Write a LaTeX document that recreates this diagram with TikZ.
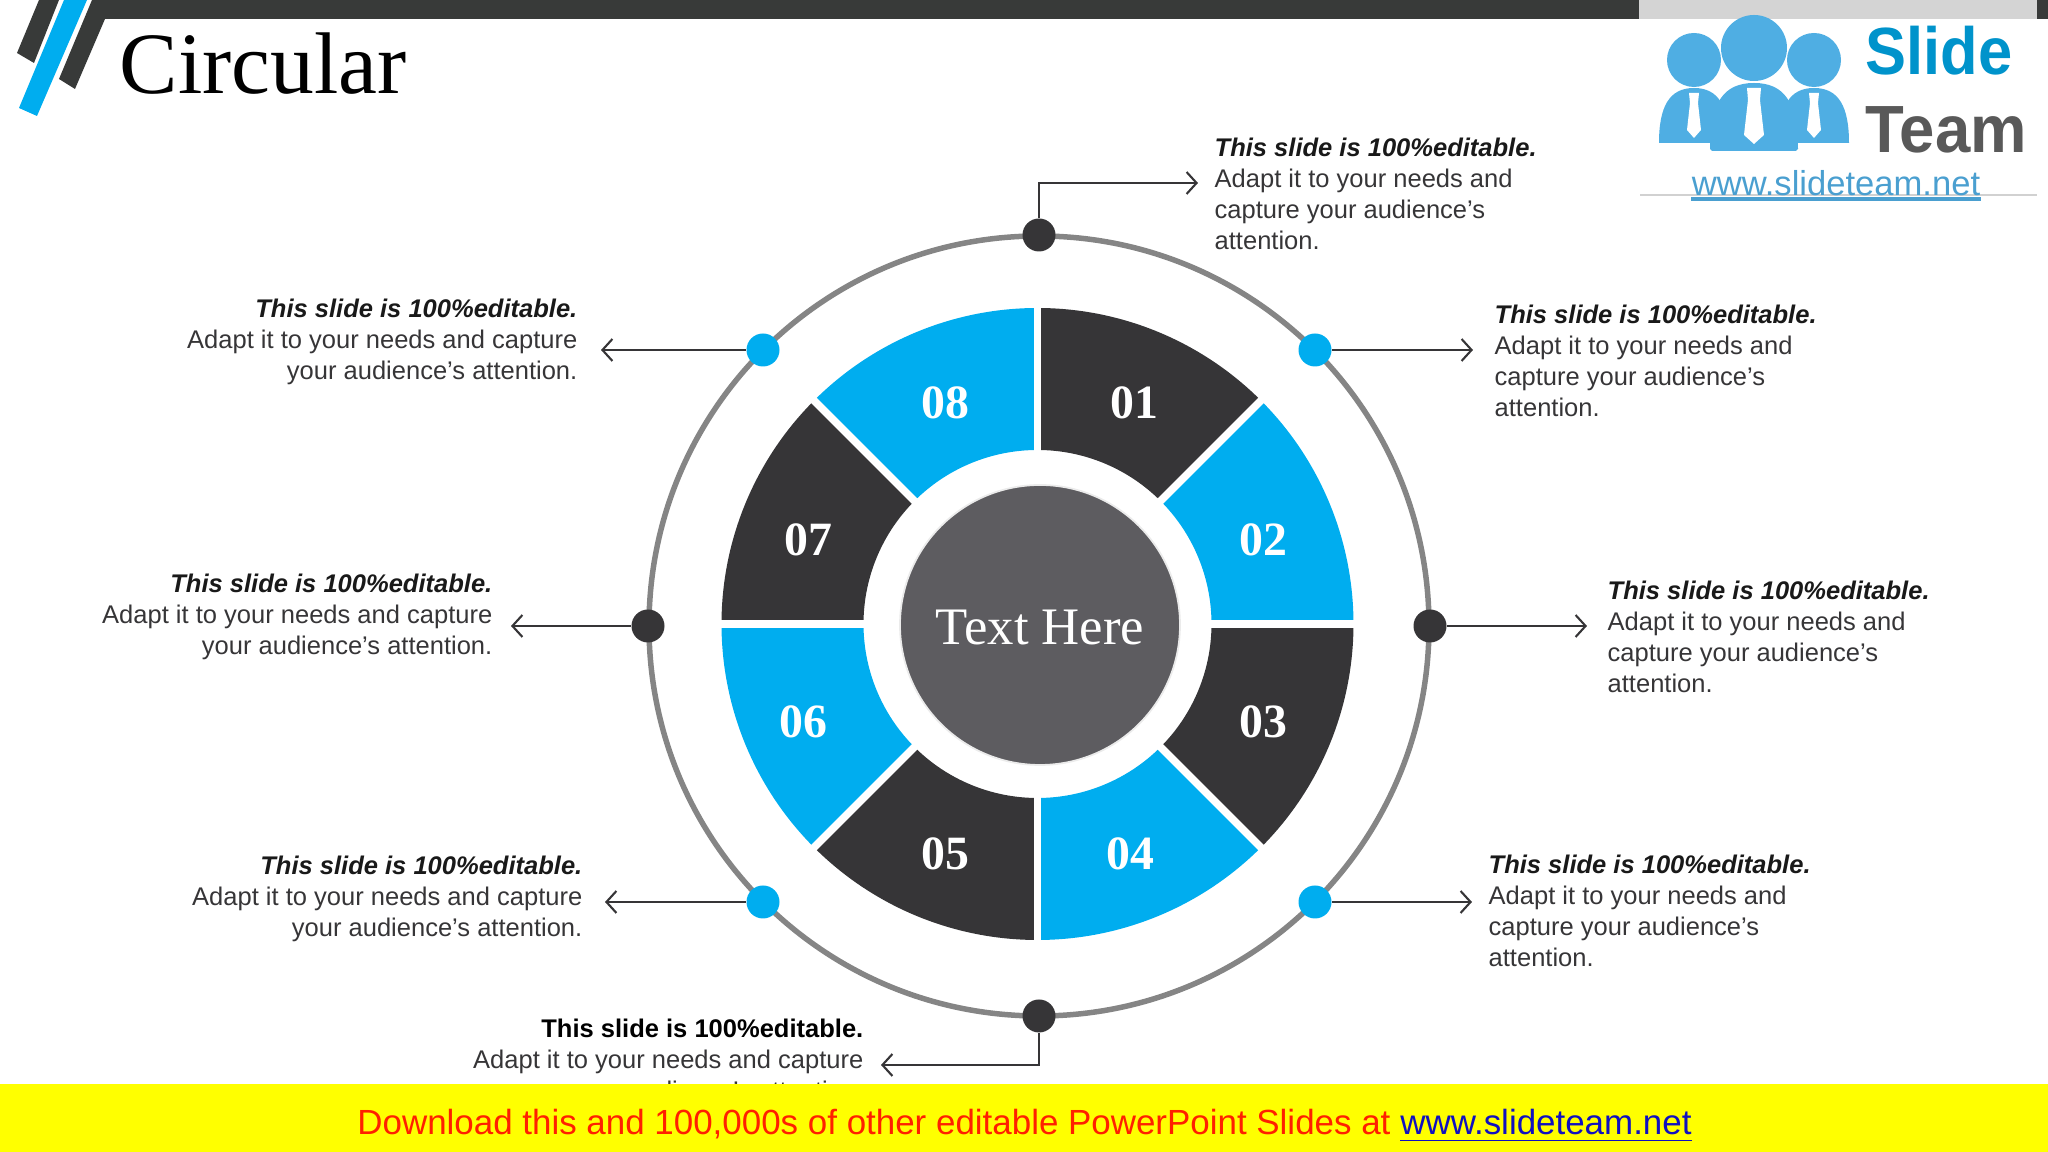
\documentclass[tikz,border=0pt]{standalone}
\usepackage{fontspec}
\setmainfont{Liberation Sans}
\newfontfamily\titlefont{Liberation Serif}
\usetikzlibrary{arrows.meta}

\definecolor{barDark}{HTML}{383A39}
\definecolor{segDark}{HTML}{363537}
\definecolor{segBlue}{HTML}{00ADEF}
\definecolor{hubGrey}{HTML}{5D5C60}
\definecolor{ringGrey}{HTML}{858585}
\definecolor{logoBlue}{HTML}{4FAEE3}
\definecolor{linkBlue}{HTML}{4A9FD0}
\definecolor{footYellow}{HTML}{FFFF00}
\definecolor{footRed}{HTML}{FF2000}
\definecolor{footLink}{HTML}{1010C0}

\tikzset{
    dotnode/.style={circle, minimum size=0.33cm, inner sep=0pt},
    leader/.style={draw=segDark, line width=0.6pt, -{Straight Barb[length=0.1cm, width=0.22cm]}},
    notetext/.style={inner sep=0pt, text=segDark, font=\fontsize{7.26}{8.85}\selectfont},
    noteleft/.style={notetext, anchor=north west, align=left},
    noteright/.style={notetext, anchor=north east, align=right},
    numnode/.style={text=white, font=\titlefont\bfseries\fontsize{13.6}{14}\selectfont},
}
\newcommand{\notehead}{\textcolor{black!90}{\textbf{\textit{This slide is 100\%editable.}}}}

\begin{document}
\begin{tikzpicture}
    \useasboundingbox (0,0) rectangle (20.48,11.52);
    % header
    \fill[barDark] (0.92,11.52) -- (16.39,11.52) -- (16.39,11.33) -- (1.05,11.33) -- (0.75,10.63) -- (0.59,10.73) -- cycle;
    \fill[barDark] (20.37,11.52) rectangle (20.48,11.33);
    \fill[barDark] (0.39,11.52) -- (0.59,11.52) -- (0.34,10.89) -- (0.17,10.99) -- cycle;
    \fill[segBlue] (0.64,11.52) -- (0.87,11.52) -- (0.37,10.36) -- (0.19,10.44) -- cycle;
    \fill[black!17] (16.39,11.52) rectangle (20.37,11.33);
    \node[inner sep=0pt, anchor=base west, font=\titlefont\fontsize{24.9}{26}\selectfont] (Title) at (1.19,10.58) {Circular};

    % logo
    \draw[black!18, line width=0.4pt] (16.40,9.57) -- (20.37,9.57);
    \fill[logoBlue] (16.94,10.92) circle (0.27);
    \fill[logoBlue] (18.14,10.92) circle (0.27);
    \fill[logoBlue] (17.54,11.04) circle (0.33);
    \foreach \bx in {16.94,18.14} {
        \fill[logoBlue, shift={(\bx,0)}] (-0.35,10.09) .. controls (-0.35,10.45) and (-0.25,10.64) .. (0,10.64) .. controls (0.25,10.64) and (0.35,10.45) .. (0.35,10.09) -- cycle;
        \fill[white, shift={(\bx,0)}] (-0.05,10.59) -- (0.05,10.59) -- (0.04,10.49) -- (0.07,10.22) -- (0,10.14) -- (-0.07,10.22) -- (-0.04,10.49) -- cycle;
    }
    \fill[logoBlue, shift={(17.54,0)}] (-0.44,10.03) .. controls (-0.44,10.50) and (-0.30,10.69) .. (0,10.69) .. controls (0.30,10.69) and (0.44,10.50) .. (0.44,10.03) -- (0.42,10.01) -- (-0.42,10.01) -- cycle;
    \fill[white, shift={(17.54,0)}] (-0.07,10.64) -- (0.07,10.64) -- (0.06,10.52) -- (0.10,10.17) -- (0,10.08) -- (-0.10,10.17) -- (-0.06,10.52) -- cycle;
    \node[inner sep=0pt, anchor=base west, text=segBlue!85!black, xscale=0.92, font=\bfseries\fontsize{19}{20}\selectfont] (LogoSlide) at (18.65,10.77) {Slide};
    \node[inner sep=0pt, anchor=base west, text=black!65, xscale=0.95, font=\bfseries\fontsize{19}{20}\selectfont] (LogoTeam) at (18.65,9.99) {Team};
    \node[inner sep=0pt, anchor=base, text=linkBlue, font=\fontsize{9.84}{10}\selectfont] (LogoUrl) at (18.36,9.56) {www.slideteam.net};
    \draw[linkBlue, line width=0.9pt] (LogoUrl.south west) ++(0,-0.02) -- ([yshift=-0.02cm]LogoUrl.south east);

    % ring and dots
    \draw[ringGrey, line width=0.055cm] (10.39,5.26) circle (3.90);
    \node[dotnode, fill=segDark] (Dot1) at (10.39,9.17) {};
    \node[dotnode, fill=segBlue] (Dot2) at (13.15,8.02) {};
    \node[dotnode, fill=segDark] (Dot3) at (14.30,5.26) {};
    \node[dotnode, fill=segBlue] (Dot4) at (13.15,2.50) {};
    \node[dotnode, fill=segDark] (Dot5) at (10.39,1.36) {};
    \node[dotnode, fill=segBlue] (Dot6) at (7.63,2.50) {};
    \node[dotnode, fill=segDark] (Dot7) at (6.48,5.26) {};
    \node[dotnode, fill=segBlue] (Dot8) at (7.63,8.02) {};

    % segments
    \begin{scope}[shift={(10.375,5.28)}]
        \foreach \a/\clr in {90/segDark,45/segBlue,0/segDark,-45/segBlue,-90/segDark,-135/segBlue,-180/segDark,-225/segBlue} {
            \fill[\clr] (\a:3.16) arc (\a:\a-45:3.16) -- (\a-45:1.74) arc (\a-45:\a:1.74) -- cycle;
        }
        \foreach \a in {0,45,90,135} {
            \draw[white, line width=0.075cm] (\a:3.3) -- (\a+180:3.3);
        }
    \end{scope}
    \node[circle, fill=hubGrey, draw=black!8, line width=0.5pt, minimum size=2.80cm, inner sep=0pt, text=white, font=\titlefont\fontsize{15}{17}\selectfont] (Hub) at (10.40,5.27) {\raisebox{-0.03cm}[\height][\depth]{Text Here}};
    \node[numnode] (Num1) at (11.345,7.495) {01};
    \node[numnode] (Num2) at (12.635,6.125) {02};
    \node[numnode] (Num3) at (12.635,4.305) {03};
    \node[numnode] (Num4) at (11.30,2.985) {04};
    \node[numnode] (Num5) at (9.455,2.985) {05};
    \node[numnode] (Num6) at (8.035,4.305) {06};
    \node[numnode] (Num7) at (8.085,6.125) {07};
    \node[numnode] (Num8) at (9.45,7.495) {08};

    % notes
    \node[noteleft] (Note1) at (12.14,10.15) {\notehead\\Adapt it to your needs and\\capture your audience’s\\attention.};
    \node[noteleft] (Note2) at (14.94,8.48) {\notehead\\Adapt it to your needs and\\capture your audience’s\\attention.};
    \node[noteleft] (Note3) at (16.07,5.72) {\notehead\\Adapt it to your needs and\\capture your audience’s\\attention.};
    \node[noteleft] (Note4) at (14.88,2.98) {\notehead\\Adapt it to your needs and\\capture your audience’s\\attention.};
    \node[noteright] (Note5) at (8.64,1.34) {\textcolor{black}{\textbf{This slide is 100\%editable.}}\\Adapt it to your needs and capture\\your audience’s attention.};
    \node[noteright] (Note6) at (5.83,2.97) {\notehead\\Adapt it to your needs and capture\\your audience’s attention.};
    \node[noteright] (Note7) at (4.93,5.79) {\notehead\\Adapt it to your needs and capture\\your audience’s attention.};
    \node[noteright] (Note8) at (5.78,8.54) {\notehead\\Adapt it to your needs and capture\\your audience’s attention.};

    % leaders
    \coordinate (Tip1) at (11.98,9.69);
    \coordinate (Tip2) at (14.73,8.02);
    \coordinate (Tip3) at (15.87,5.26);
    \coordinate (Tip4) at (14.72,2.50);
    \coordinate (Tip5) at (8.81,0.87);
    \coordinate (Tip6) at (6.05,2.50);
    \coordinate (Tip7) at (5.11,5.26);
    \coordinate (Tip8) at (6.01,8.02);
    \draw[leader] (Dot1) |- (Tip1);
    \draw[leader] (Dot5) |- (Tip5);
    \foreach \n in {2,3,4,6,7,8} {
        \draw[leader] (Dot\n) -- (Tip\n);
    }

    % footer
    \fill[footYellow] (0,0) rectangle (20.48,0.68);
    \node[inner sep=0pt, text=footRed, font=\fontsize{9.94}{10}\selectfont] (Footer) at (10.245,0.26) {Download this and 100,000s of other editable PowerPoint Slides at \textcolor{footLink}{\underline{www.slideteam.net}}};
\end{tikzpicture}
\end{document}
